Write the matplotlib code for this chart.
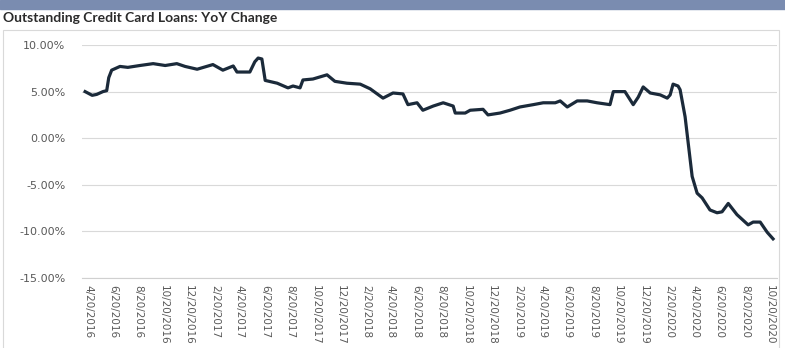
import matplotlib
matplotlib.use("Agg")
import matplotlib.pyplot as plt
import pandas as pd
from matplotlib.patches import Rectangle

# approximate readings, YoY change in %
dates = [
    "2016-04-13", "2016-04-30", "2016-05-11", "2016-05-26", "2016-06-04", "2016-06-09",
    "2016-06-16", "2016-07-06", "2016-07-25", "2016-08-23", "2016-09-24", "2016-10-23",
    "2016-11-20", "2016-12-10", "2017-01-08", "2017-02-15", "2017-03-11", "2017-04-05",
    "2017-04-14", "2017-05-15", "2017-05-27", "2017-06-04", "2017-06-13", "2017-06-21",
    "2017-07-20", "2017-08-15", "2017-08-27", "2017-09-13", "2017-09-20", "2017-10-14",
    "2017-11-17", "2017-12-06", "2018-01-04", "2018-02-05", "2018-03-01", "2018-04-01",
    "2018-04-25", "2018-05-19", "2018-05-31", "2018-06-22", "2018-07-06", "2018-07-31",
    "2018-08-24", "2018-09-17", "2018-09-22", "2018-10-16", "2018-10-28", "2018-11-28",
    "2018-12-10", "2019-01-08", "2019-02-01", "2019-02-25", "2019-03-29", "2019-04-22",
    "2019-05-21", "2019-06-02", "2019-06-19", "2019-07-13", "2019-08-06", "2019-08-30",
    "2019-09-30", "2019-10-08", "2019-11-05", "2019-11-25", "2019-12-07", "2019-12-19",
    "2020-01-05", "2020-01-29", "2020-02-15", "2020-02-22", "2020-02-29", "2020-03-12",
    "2020-03-17", "2020-03-29", "2020-04-15", "2020-04-27", "2020-05-09", "2020-05-28",
    "2020-06-14", "2020-06-26", "2020-07-11", "2020-08-01", "2020-08-28", "2020-09-09",
    "2020-09-26", "2020-10-13", "2020-10-27",
]
yoy = [
    5.0, 4.6, 4.7, 5.0, 5.1, 6.5,
    7.3, 7.7, 7.6, 7.8, 8.0, 7.8,
    8.0, 7.7, 7.4, 7.9, 7.3, 7.75,
    7.1, 7.1, 8.2, 8.6, 8.5, 6.2,
    5.9, 5.4, 5.6, 5.4, 6.25, 6.35,
    6.8, 6.1, 5.9, 5.8, 5.3, 4.3,
    4.85, 4.75, 3.6, 3.8, 3.0, 3.45,
    3.8, 3.45, 2.7, 2.7, 3.0, 3.1,
    2.5, 2.7, 3.0, 3.35, 3.6, 3.8,
    3.8, 4.0, 3.35, 4.0, 4.0, 3.8,
    3.6, 5.0, 5.0, 3.6, 4.4, 5.5,
    4.85, 4.65, 4.3, 4.65, 5.8, 5.6,
    5.2, 2.3, -4.1, -5.9, -6.4, -7.7,
    -8.0, -7.9, -7.0, -8.2, -9.3, -9.0,
    -9.0, -10.1, -10.8,
]
y_ticks = [10, 5, 0, -5, -10, -15]
x_tick_dates = pd.date_range("2016-04-20", "2020-10-20", freq=pd.DateOffset(months=2))

fig = plt.figure(figsize=(7.85, 3.48), dpi=100)
fig.patch.set_facecolor("white")

# blue band and chart frame
fig.add_artist(Rectangle((0, 1 - 9 / 348), 1, 9 / 348, transform=fig.transFigure,
                         color="#7a8cb0", zorder=0))
fig.add_artist(Rectangle((3 / 785, -0.01), 776 / 785, 1 - 30 / 348 + 0.01,
                         transform=fig.transFigure, fill=False,
                         edgecolor="#d9d9d9", lw=0.8))
fig.text(3 / 785, 1 - 18 / 348, "Outstanding Credit Card Loans: YoY Change",
         fontsize=10, fontweight="bold", family="Lato", color="#2b2b2b",
         va="center", ha="left")

ax = fig.add_axes([82 / 785, 1 - 278 / 348, 695 / 785, 233 / 348])
x = pd.to_datetime(dates)
ax.plot(x, yoy, color="#1b2a3a", lw=2.3, solid_joinstyle="round")

ax.set_ylim(-15, 10)
ax.set_yticks(y_ticks)
ax.set_yticklabels([f"{v:.2f}%" for v in y_ticks])
ax.grid(axis="y", color="#d9d9d9", lw=0.8)
ax.set_axisbelow(True)

start = pd.Timestamp("2016-04-20")
end = pd.Timestamp("2020-10-20")
ax.set_xlim(start - pd.Timedelta(days=14.5), end + pd.Timedelta(days=16.5))
ax.set_xticks(x_tick_dates)
ax.set_xticklabels([f"{d.month}/{d.day}/{d.year}" for d in x_tick_dates],
                   rotation=270, fontsize=7.5, color="#595959")

for s in ["top", "right", "left"]:
    ax.spines[s].set_visible(False)
ax.spines["bottom"].set_color("#d0d0d0")
ax.tick_params(axis="y", length=0, pad=12, labelsize=8, labelcolor="#595959")
ax.tick_params(axis="x", length=0, pad=5)

fig.savefig("out.png", dpi=100)
